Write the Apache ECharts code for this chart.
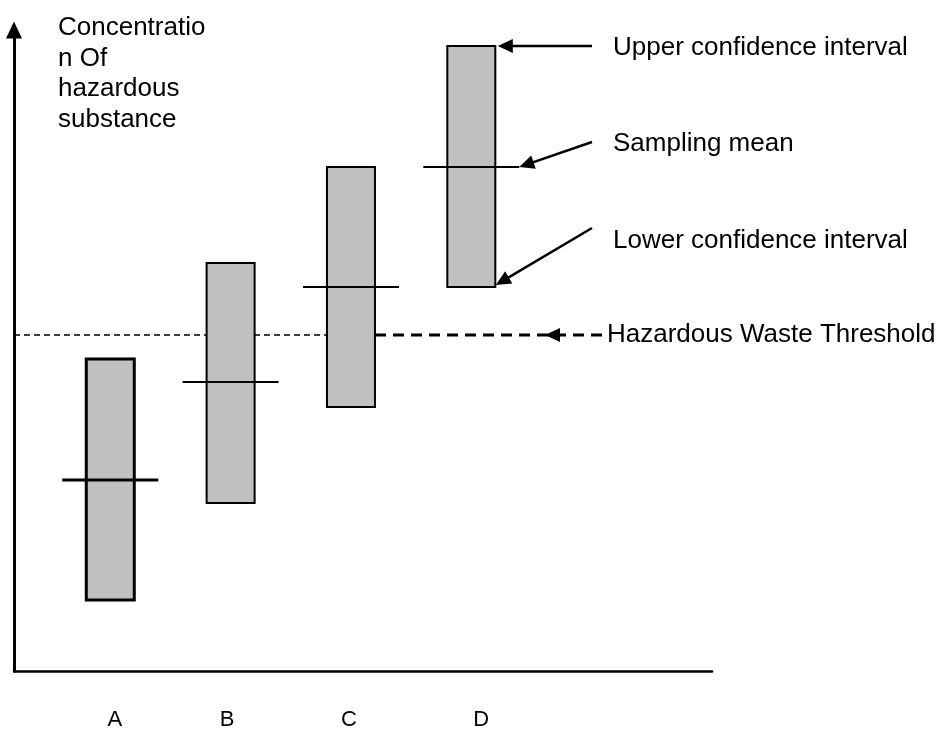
<!DOCTYPE html>
<html>
<head>
<meta charset="utf-8">
<script src="https://cdn.jsdelivr.net/npm/echarts@6/dist/echarts.min.js"></script>
<style>
html, body { margin: 0; padding: 0; background: #fff; }
#main { width: 946px; height: 731px; }
</style>
</head>
<body>
<div id="main"></div>
<script>
// sample groups
const categories = ['A', 'B', 'C', 'D'];
const positions = [1, 2, 3, 4];
const upperCI = [31.2, 40.8, 50.4, 62.5];
const lowerCI = [7.1, 16.8, 26.4, 38.4];
const sampleMean = [19.1, 28.9, 38.4, 50.4];
const threshold = 33.6;

const yAxisTitle = ['Concentratio', 'n Of', 'hazardous', 'substance'];
const calloutText = ['Upper confidence interval', 'Sampling mean', 'Lower confidence interval'];
const thresholdText = 'Hazardous Waste Threshold';

const FONT = "'Liberation Sans', Arial, sans-serif";

const chart = echarts.init(document.getElementById('main'));

const boxData = positions.map((p, i) => [p, upperCI[i], lowerCI[i], sampleMean[i]]);

// the letters under the axis are not exactly centred on their boxes
const labelNudge = [4.5, -3.5, -2, 10];

function renderBox(params, api) {
    const i = params.dataIndex;
    const x = api.value(0);
    const top = api.coord([x, api.value(1)]);
    const bot = api.coord([x, api.value(2)]);
    const mid = api.coord([x, api.value(3)]);
    const base = api.coord([x, 0]);
    const lw = i === 0 ? 3 : 2;
    return {
        type: 'group',
        children: [
            {
                type: 'rect',
                shape: { x: top[0] - 24, y: top[1], width: 48, height: bot[1] - top[1] },
                style: { fill: '#c0c0c0', stroke: '#000', lineWidth: lw }
            },
            {
                type: 'line',
                shape: { x1: mid[0] - 48, y1: mid[1], x2: mid[0] + 48, y2: mid[1] },
                style: { stroke: '#000', lineWidth: lw }
            },
            {
                type: 'text',
                x: base[0] + labelNudge[i],
                y: base[1] + 49,
                style: {
                    text: categories[i], fill: '#000', font: '22px ' + FONT,
                    align: 'center', verticalAlign: 'middle'
                }
            }
        ]
    };
}

function arrowHead(tip, from, len, half) {
    const dx = tip[0] - from[0], dy = tip[1] - from[1];
    const d = Math.sqrt(dx * dx + dy * dy);
    const ux = dx / d, uy = dy / d;
    const bx = tip[0] - ux * len, by = tip[1] - uy * len;
    return {
        type: 'polygon',
        shape: { points: [tip, [bx - uy * half, by + ux * half], [bx + uy * half, by - ux * half]] },
        style: { fill: '#000' }
    };
}

// callouts point at group D: upper edge, mean line end, lower corner
// [x, y, tip dx, tip dy, line start dy (from tip) or null, text y]
const d = positions.length - 1;
const calloutData = [
    [positions[d], upperCI[d], 26.5, 0, 0, 47.5],
    [positions[d], sampleMean[d], 48, 0, -25, 143.5],
    [positions[d], lowerCI[d], 24.5, -2, -57, 240.5]
];

function renderCallout(params, api) {
    const i = params.dataIndex;
    const target = api.coord([api.value(0), api.value(1)]);
    const tip = [target[0] + api.value(2), target[1] + api.value(3)];
    const start = [592, tip[1] + api.value(4)];
    return {
        type: 'group',
        children: [
            {
                type: 'line',
                shape: { x1: start[0], y1: start[1], x2: tip[0] + 4, y2: tip[1] + (start[1] - tip[1]) * 4 / (start[0] - tip[0]) },
                style: { stroke: '#000', lineWidth: 2.5 }
            },
            arrowHead(tip, start, 15, 7),
            {
                type: 'text',
                x: 613,
                y: api.value(5),
                style: {
                    text: calloutText[i], fill: '#000', font: '26px ' + FONT,
                    align: 'left', verticalAlign: 'middle'
                }
            }
        ]
    };
}

function renderThreshold(params, api) {
    const a = api.coord([0.2, threshold]);
    const b = api.coord([3.2, threshold]);
    const headX = 545;
    const endX = 607;
    return {
        type: 'group',
        children: [
            {
                type: 'line',
                shape: { x1: a[0], y1: a[1], x2: b[0], y2: b[1] },
                style: { stroke: '#000', lineWidth: 1.6, lineDash: [6, 4] }
            },
            {
                type: 'line',
                shape: { x1: b[0], y1: b[1], x2: endX, y2: b[1] },
                style: { stroke: '#000', lineWidth: 3, lineDash: [11, 7] }
            },
            arrowHead([headX, b[1]], [headX + 20, b[1]], 15, 7),
            {
                type: 'text',
                x: endX,
                y: b[1],
                style: {
                    text: thresholdText, fill: '#000', font: '26px ' + FONT,
                    align: 'left', verticalAlign: 'middle'
                }
            }
        ]
    };
}

const option = {
    animation: false,
    backgroundColor: '#fff',
    grid: { left: 14, right: 234, top: 30, bottom: 60 },
    graphic: [
        {
            type: 'text',
            left: 58,
            top: 13,
            style: {
                text: yAxisTitle.join('\n'), fill: '#000', font: '26px ' + FONT, lineHeight: 30.5
            }
        }
    ],
    xAxis: {
        type: 'value',
        min: 0.2,
        max: 6,
        axisLine: { show: true, lineStyle: { color: '#000', width: 2.5 } },
        axisTick: { show: false },
        axisLabel: { show: false },
        splitLine: { show: false }
    },
    yAxis: {
        type: 'value',
        min: 0,
        max: 64.1,
        axisLine: {
            show: true,
            symbol: ['none', 'triangle'],
            symbolSize: [16, 17],
            lineStyle: { color: '#000', width: 3 }
        },
        axisTick: { show: false },
        axisLabel: { show: false },
        splitLine: { show: false }
    },
    series: [
        {
            name: 'threshold',
            type: 'custom',
            renderItem: renderThreshold,
            data: [[0]],
            z: 1
        },
        {
            name: 'confidence interval',
            type: 'custom',
            renderItem: renderBox,
            data: boxData,
            z: 2
        },
        {
            name: 'callouts',
            type: 'custom',
            renderItem: renderCallout,
            data: calloutData,
            z: 3
        }
    ]
};

chart.setOption(option);
</script>
</body>
</html>
